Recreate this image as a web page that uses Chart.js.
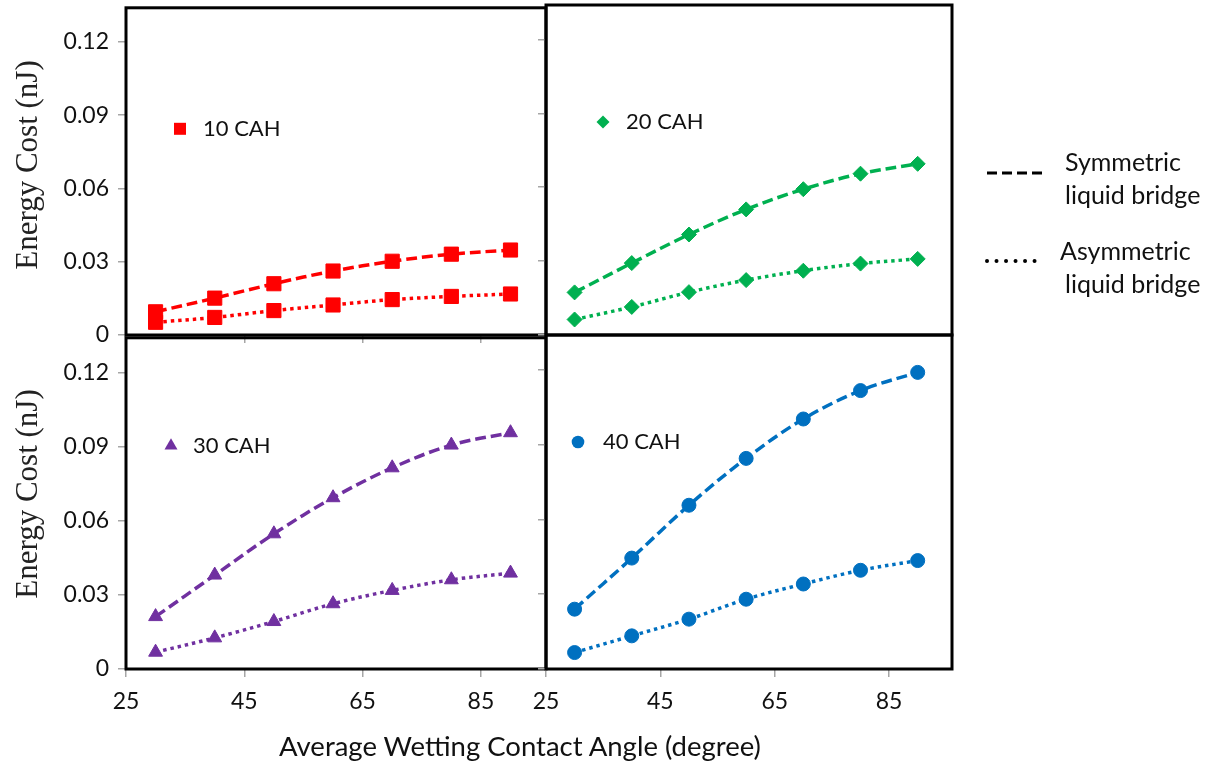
<!DOCTYPE html>
<html lang="en">
<head>
<meta charset="UTF-8" />
<title>Energy Cost vs Contact Angle</title>
<script src="https://cdn.jsdelivr.net/npm/chart.js"></script>
<style>
  html, body { margin: 0; padding: 0; background: #fff; }
  body { width: 1207px; height: 769px; position: relative; overflow: hidden; font-family: Lato, sans-serif; }
  canvas { position: absolute; }
  .ytitle {
    position: absolute; font-family: 'Liberation Serif', serif; font-size: 31px; line-height: 1;
    color: #222; white-space: nowrap; transform: translate(-50%, -50%) rotate(-90deg);
  }
  .xtitle {
    position: absolute; left: 520px; top: 746px; font-size: 27.5px; line-height: 1;
    color: #111; white-space: nowrap; transform: translate(-50%, -50%);
  }
</style>
</head>
<body>
  <canvas id="tl"></canvas>
  <canvas id="tr"></canvas>
  <canvas id="bl"></canvas>
  <canvas id="br"></canvas>
  <div class="ytitle" style="left:26px; top:165px">Energy Cost (nJ)</div>
  <div class="ytitle" style="left:26px; top:494px">Energy Cost (nJ)</div>
  <div class="xtitle">Average Wetting Contact Angle (degree)</div>

<script>
// contact angle (degree) and energy cost (nJ) per contact angle hysteresis
const angles = [30, 40, 50, 60, 70, 80, 90];
const sym10  = [0.0095, 0.0151, 0.0210, 0.0262, 0.0302, 0.0331, 0.0348];
const asym10 = [0.0052, 0.0072, 0.0100, 0.0123, 0.0145, 0.0158, 0.0168];
const sym20  = [0.0173, 0.0292, 0.0408, 0.0510, 0.0592, 0.0655, 0.0695];
const asym20 = [0.0063, 0.0114, 0.0174, 0.0223, 0.0261, 0.0290, 0.0309];
const sym30  = [0.0212, 0.0380, 0.0547, 0.0693, 0.0814, 0.0906, 0.0956];
const asym30 = [0.0068, 0.0126, 0.0192, 0.0264, 0.0318, 0.0361, 0.0388];
const sym40  = [0.0240, 0.0445, 0.0657, 0.0845, 0.1003, 0.1117, 0.1190];
const asym40 = [0.0066, 0.0133, 0.0200, 0.0280, 0.0341, 0.0396, 0.0435];

const xTicks = [25, 45, 65, 85];
const yTicks = [0, 0.03, 0.06, 0.09, 0.12];
const yTickLabels = ['0', '0.03', '0.06', '0.09', '0.12'];
const xRange = [25, 96];
const yRange = [0, 0.134];

const FONT = 'Lato';
const TEXT = '#111';

function drawShape(ctx, shape, x, y, r) {
  ctx.beginPath();
  if (shape === 'circle') {
    ctx.arc(x, y, r, 0, Math.PI * 2);
  } else if (shape === 'rect') {
    ctx.rect(x - r, y - r, 2 * r, 2 * r);
  } else if (shape === 'rectRot') {
    ctx.moveTo(x, y - r); ctx.lineTo(x + r, y); ctx.lineTo(x, y + r); ctx.lineTo(x - r, y);
    ctx.closePath();
  } else if (shape === 'triangle') {
    ctx.moveTo(x, y - r);
    ctx.lineTo(x + r * 0.866, y + r * 0.5);
    ctx.lineTo(x - r * 0.866, y + r * 0.5);
    ctx.closePath();
  }
  ctx.fill();
}

// black box round each plot area
const framePlugin = {
  id: 'frame',
  afterDraw(chart) {
    const { ctx, chartArea: a } = chart;
    ctx.save();
    ctx.strokeStyle = '#000';
    ctx.lineWidth = 3;
    ctx.strokeRect(a.left, a.top, a.right - a.left, a.bottom - a.top);
    ctx.restore();
  }
};

// marker + "NN CAH" tag inside each panel
const tagPlugin = {
  id: 'tag',
  afterDatasetsDraw(chart, args, o) {
    if (!o.text) return;
    const { ctx, chartArea: a } = chart;
    ctx.save();
    ctx.fillStyle = o.color;
    drawShape(ctx, o.shape, a.left + o.dx, a.top + o.dy, o.size);
    ctx.fillStyle = TEXT;
    ctx.font = '22px ' + FONT;
    ctx.textBaseline = 'middle';
    ctx.fillText(o.text, a.left + o.tx, a.top + o.dy);
    ctx.restore();
  }
};

// line-style key to the right of the upper right panel
const keyPlugin = {
  id: 'lineKey',
  afterDraw(chart) {
    const { ctx, chartArea: a } = chart;
    const x0 = a.right, y0 = a.top;
    ctx.save();
    ctx.strokeStyle = '#000';
    ctx.lineWidth = 3;
    ctx.setLineDash([10, 5]);
    ctx.beginPath(); ctx.moveTo(x0 + 35, y0 + 168); ctx.lineTo(x0 + 90, y0 + 168); ctx.stroke();
    ctx.lineWidth = 4;
    ctx.lineCap = 'round';
    ctx.setLineDash([0.01, 9.5]);
    ctx.beginPath(); ctx.moveTo(x0 + 35, y0 + 256); ctx.lineTo(x0 + 84, y0 + 256); ctx.stroke();
    ctx.fillStyle = TEXT;
    ctx.font = '25px ' + FONT;
    ctx.textBaseline = 'middle';
    ctx.fillText('Symmetric', x0 + 113, y0 + 158);
    ctx.fillText('liquid bridge', x0 + 113, y0 + 191);
    ctx.fillText('Asymmetric', x0 + 108, y0 + 247);
    ctx.fillText('liquid bridge', x0 + 113, y0 + 280);
    ctx.restore();
  }
};

function series(label, values, color, shape, radius, dotted) {
  return {
    label: label,
    data: angles.map((a, i) => ({ x: a, y: values[i] })),
    borderColor: color,
    backgroundColor: color,
    borderWidth: 3.5,
    borderDash: dotted ? [3.5, 4] : [11, 5],
    tension: 0.35,
    pointStyle: shape,
    pointRadius: radius,
    pointBorderWidth: 1,
    pointBackgroundColor: color,
    pointBorderColor: color
  };
}

function panel(id, box, m, p) {
  const cv = document.getElementById(id);
  const w = box.r - box.l + m.l + m.r;
  const h = box.b - box.t + m.t + m.b;
  cv.width = w; cv.height = h;
  cv.style.left = (box.l - m.l) + 'px';
  cv.style.top = (box.t - m.t) + 'px';
  cv.style.width = w + 'px';
  cv.style.height = h + 'px';

  const tickFont = { family: FONT, size: 23 };
  const plugins = [framePlugin, tagPlugin];
  if (p.key) plugins.push(keyPlugin);

  return new Chart(cv, {
    type: 'line',
    data: {
      datasets: [
        series(p.name + ' symmetric', p.sym, p.color, p.shape, p.radius, false),
        series(p.name + ' asymmetric', p.asym, p.color, p.shape, p.radius, true)
      ]
    },
    options: {
      responsive: false,
      animation: false,
      events: [],
      layout: { padding: { left: 0, top: m.t, right: m.r, bottom: 0 } },
      scales: {
        x: {
          type: 'linear',
          min: xRange[0],
          max: xRange[1],
          afterBuildTicks: s => { s.ticks = xTicks.map(v => ({ value: v })); },
          afterFit: s => { s.height = m.b; },
          grid: { display: p.xMarks, drawOnChartArea: false, tickLength: 8, color: '#a6a6a6', lineWidth: 1.5 },
          border: { display: false },
          ticks: { display: p.xLabels, font: tickFont, color: TEXT, padding: 11, maxRotation: 0 }
        },
        y: {
          min: yRange[0],
          max: yRange[1],
          afterBuildTicks: s => { s.ticks = yTicks.map(v => ({ value: v })); },
          afterFit: s => { s.width = m.l; },
          grid: { drawOnChartArea: false, tickLength: 8, color: '#a6a6a6', lineWidth: 1.5 },
          border: { display: false },
          ticks: {
            display: p.yLabels, font: tickFont, color: TEXT, padding: 9,
            callback: v => yTickLabels[yTicks.indexOf(v)] ?? ''
          }
        }
      },
      plugins: {
        legend: { display: false },
        tooltip: { enabled: false },
        tag: p.tag
      }
    },
    plugins: plugins
  });
}

const RED = '#ff0000', GREEN = '#00b050', PURPLE = '#7030a0', BLUE = '#0070c0';

panel('tl', { l: 126, t: 5, r: 546, b: 335 }, { l: 126, t: 20, r: 20, b: 30 }, {
  name: '10 CAH', sym: sym10, asym: asym10, color: RED, shape: 'rect', radius: 10,
  xMarks: true, xLabels: false, yLabels: true,
  tag: { text: '10 CAH', color: RED, shape: 'rect', size: 6, dx: 54, dy: 121, tx: 77 }
});
panel('tr', { l: 546, t: 5, r: 952, b: 335 }, { l: 30, t: 20, r: 255, b: 30 }, {
  name: '20 CAH', sym: sym20, asym: asym20, color: GREEN, shape: 'rectRot', radius: 7.5,
  xMarks: false, xLabels: false, yLabels: false, key: true,
  tag: { text: '20 CAH', color: GREEN, shape: 'rectRot', size: 6.5, dx: 57, dy: 117, tx: 80 }
});
panel('bl', { l: 126, t: 335, r: 546, b: 669 }, { l: 126, t: 20, r: 20, b: 100 }, {
  name: '30 CAH', sym: sym30, asym: asym30, color: PURPLE, shape: 'triangle', radius: 8,
  xMarks: true, xLabels: true, yLabels: true,
  tag: { text: '30 CAH', color: PURPLE, shape: 'triangle', size: 7.5, dx: 45, dy: 108, tx: 67 }
});
panel('br', { l: 546, t: 335, r: 952, b: 669 }, { l: 30, t: 20, r: 30, b: 100 }, {
  name: '40 CAH', sym: sym40, asym: asym40, color: BLUE, shape: 'circle', radius: 7,
  xMarks: true, xLabels: true, yLabels: false,
  tag: { text: '40 CAH', color: BLUE, shape: 'circle', size: 6.3, dx: 32, dy: 107, tx: 57 }
});
</script>
</body>
</html>
